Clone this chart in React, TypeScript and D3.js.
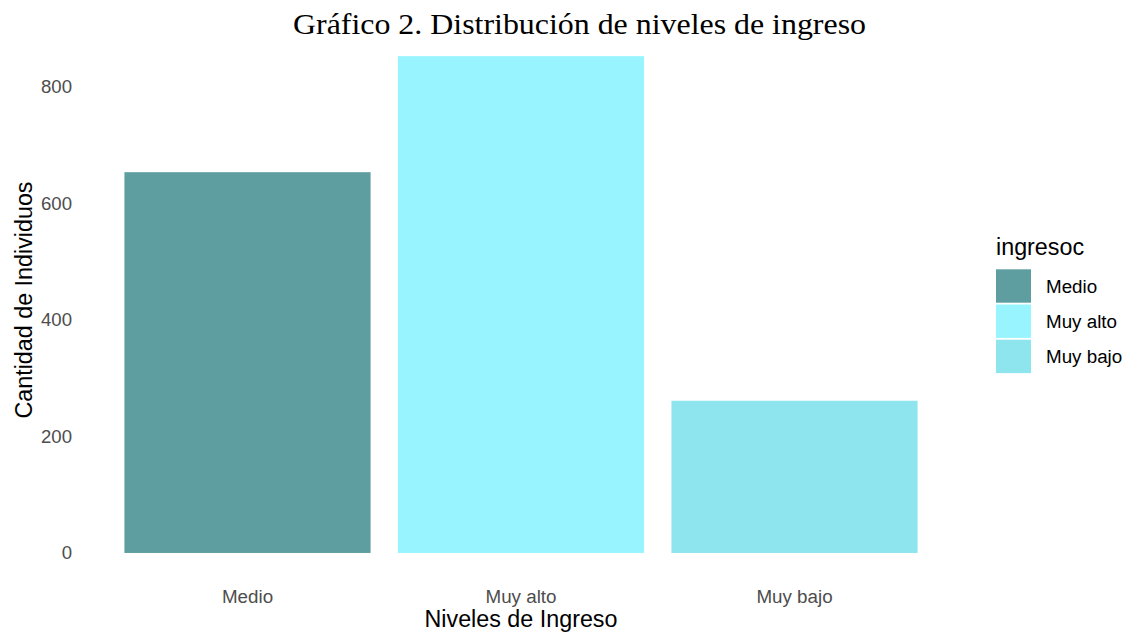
import * as d3 from 'd3';

const categories = ['Medio', 'Muy alto', 'Muy bajo'];
const counts = [653, 852, 261];
const colors = ['#5F9EA0', '#98F5FF', '#8EE5EE'];
const yTicks = [0, 200, 400, 600, 800];

const title = 'Gráfico 2. Distribución de niveles de ingreso';
const xTitle = 'Niveles de Ingreso';
const yTitle = 'Cantidad de Individuos';
const legendTitle = 'ingresoc';

const width = 1134;
const height = 636;
const panel = { left: 83.4, right: 958.6, top: 31.3, bottom: 577.8 };
const sans = '"Liberation Sans", Arial, sans-serif';

export default function App(): JSX.Element {
  // ggplot-like discrete scale: bars 0.9 wide, 0.6 unit expansion at the ends
  const x = d3.scaleBand<string>()
    .domain(categories)
    .range([panel.left, panel.right])
    .paddingInner(0.1)
    .paddingOuter(0.15);

  const maxVal = d3.max(counts) ?? 0;
  const pad = maxVal * 0.05;
  const y = d3.scaleLinear()
    .domain([-pad, maxVal + pad])
    .range([panel.bottom, panel.top]);

  const keyStep = 35.2;
  const keyTop = 269.3;

  return (
    <svg width={width} height={height} style={{ display: 'block', position: 'absolute', left: 0, top: 0 }}>
      <rect width={width} height={height} fill="#fff" />

      <text x={579.5} y={34} textAnchor="middle" fontFamily='"Liberation Serif", "Times New Roman", serif'
        fontSize={30} textLength={573} lengthAdjust="spacingAndGlyphs" fill="#000">
        {title}
      </text>

      {/* Bars */}
      {categories.map((c, i) => (
        <rect key={c} x={x(c)} y={y(counts[i])} width={x.bandwidth()}
          height={y(0) - y(counts[i])} fill={colors[i]} />
      ))}

      {/* Y axis */}
      {yTicks.map(t => (
        <text key={t} x={72} y={y(t)} dy="0.35em" textAnchor="end" fontFamily={sans}
          fontSize={18.6} fill="#4D4D4D">{t}</text>
      ))}
      <text transform={`translate(32,300) rotate(-90)`} textAnchor="middle" fontFamily={sans}
        fontSize={23.3} fill="#000">{yTitle}</text>

      {/* X axis */}
      {categories.map(c => (
        <text key={c} x={(x(c) ?? 0) + x.bandwidth() / 2} y={603} textAnchor="middle"
          fontFamily={sans} fontSize={18.8} fill="#4D4D4D">{c}</text>
      ))}
      <text x={(panel.left + panel.right) / 2} y={627} textAnchor="middle" fontFamily={sans}
        fontSize={23.3} fill="#000">{xTitle}</text>

      {/* Legend */}
      <text x={996} y={255} fontFamily={sans} fontSize={23.3} fill="#000">{legendTitle}</text>
      {categories.map((c, i) => (
        <g key={c} transform={`translate(996,${keyTop + i * keyStep})`}>
          <rect width={35} height={33.4} fill={colors[i]} />
          <text x={50} y={16.7} dy="0.35em" fontFamily={sans} fontSize={18.8} fill="#000">{c}</text>
        </g>
      ))}
    </svg>
  );
}
